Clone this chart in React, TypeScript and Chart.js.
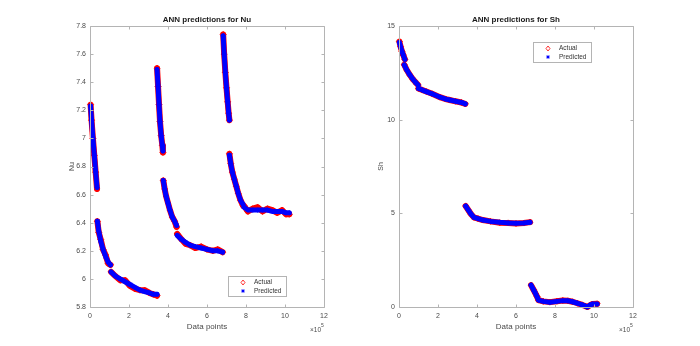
import React, { useEffect, useRef } from "react";
import { Chart, registerables } from "chart.js";
Chart.register(...registerables);

// ---------- data (x in units of 10^5 data points) ----------
const xTickValues = [0, 2, 4, 6, 8, 10, 12];

const nuX = [
  [0.03, 0.08, 0.15, 0.22, 0.29, 0.36],
  [0.38, 0.45, 0.55, 0.67, 0.8, 0.93, 1.05],
  [1.08, 1.3, 1.55, 1.8, 2.05, 2.3, 2.56, 2.8, 3.05, 3.25, 3.44],
  [3.44, 3.49, 3.54, 3.59, 3.65, 3.71, 3.74],
  [3.76, 3.83, 3.9, 4.0, 4.1, 4.22, 4.34, 4.44],
  [4.47, 4.7, 4.9, 5.13, 5.4, 5.7, 6.0, 6.3, 6.55, 6.8],
  [6.83, 6.88, 6.94, 7.0, 7.06, 7.11, 7.15],
  [7.15, 7.22, 7.3, 7.4, 7.5, 7.6, 7.72, 7.85],
  [7.9, 8.1, 8.35, 8.6, 8.85, 9.1, 9.35, 9.6, 9.85, 10.05, 10.22],
];
const nuActual = [
  [7.24, 7.13, 7.0, 6.88, 6.76, 6.64],
  [6.41, 6.33, 6.28, 6.21, 6.17, 6.11, 6.1],
  [6.05, 6.02, 5.99, 5.99, 5.95, 5.93, 5.92, 5.92, 5.9, 5.89, 5.88],
  [7.5, 7.37, 7.24, 7.12, 7.02, 6.95, 6.9],
  [6.7, 6.64, 6.59, 6.54, 6.49, 6.44, 6.41, 6.37],
  [6.32, 6.28, 6.25, 6.24, 6.22, 6.23, 6.21, 6.2, 6.21, 6.19],
  [7.74, 7.6, 7.47, 7.36, 7.26, 7.18, 7.13],
  [6.89, 6.82, 6.76, 6.71, 6.66, 6.61, 6.56, 6.52],
  [6.52, 6.48, 6.5, 6.51, 6.48, 6.5, 6.49, 6.47, 6.49, 6.46, 6.46],
];
const nuPredicted = [
  [7.23, 7.13, 7.0, 6.88, 6.76, 6.65],
  [6.41, 6.34, 6.27, 6.21, 6.16, 6.12, 6.1],
  [6.05, 6.02, 6.0, 5.98, 5.96, 5.94, 5.92, 5.91, 5.9, 5.89, 5.89],
  [7.49, 7.37, 7.24, 7.12, 7.02, 6.95, 6.91],
  [6.7, 6.64, 6.59, 6.54, 6.49, 6.44, 6.41, 6.38],
  [6.31, 6.28, 6.26, 6.24, 6.23, 6.22, 6.21, 6.2, 6.2, 6.19],
  [7.73, 7.6, 7.47, 7.36, 7.26, 7.18, 7.13],
  [6.88, 6.82, 6.76, 6.71, 6.66, 6.61, 6.56, 6.53],
  [6.51, 6.49, 6.49, 6.49, 6.49, 6.49, 6.48, 6.48, 6.48, 6.47, 6.47],
];

const shX = [
  [0.02, 0.08, 0.15, 0.22, 0.3],
  [0.27, 0.4, 0.56, 0.72, 0.86, 0.98],
  [1.0, 1.2, 1.4, 1.7, 2.1, 2.4, 2.6, 2.9, 3.2, 3.4],
  [3.42, 3.55, 3.7, 3.85, 4.05, 4.3, 4.7, 5.17, 5.6, 6.0, 6.4, 6.72],
  [6.77, 6.9, 7.0, 7.08, 7.15, 7.4, 7.74, 8.1, 8.4, 8.65, 8.9, 9.15, 9.4, 9.55, 9.66, 9.8, 9.92, 10.16],
];
const shActual = [
  [14.17, 13.9, 13.65, 13.45, 13.22],
  [12.93, 12.65, 12.38, 12.15, 11.98, 11.85],
  [11.67, 11.58, 11.5, 11.38, 11.2, 11.1, 11.05, 10.98, 10.92, 10.84],
  [5.39, 5.18, 4.95, 4.78, 4.72, 4.64, 4.57, 4.5, 4.49, 4.46, 4.48, 4.53],
  [1.17, 0.92, 0.72, 0.55, 0.37, 0.3, 0.26, 0.31, 0.35, 0.33, 0.28, 0.2, 0.11, 0.05, 0.0, 0.1, 0.16, 0.17],
];
const shPredicted = [
  [14.12, 13.9, 13.65, 13.45, 13.22],
  [12.92, 12.65, 12.38, 12.15, 11.98, 11.85],
  [11.67, 11.58, 11.5, 11.38, 11.2, 11.1, 11.05, 10.98, 10.92, 10.84],
  [5.39, 5.18, 4.95, 4.78, 4.72, 4.64, 4.57, 4.52, 4.49, 4.47, 4.48, 4.52],
  [1.17, 0.92, 0.72, 0.55, 0.37, 0.3, 0.25, 0.3, 0.34, 0.33, 0.28, 0.2, 0.11, 0.05, 0.0, 0.1, 0.16, 0.16],
];

// ---------- helpers ----------
const FONT = "'Liberation Sans', Arial, Helvetica, sans-serif";
const AXIS_COLOR = "#b4b4b4";
const TEXT_COLOR = "#4a4a4a";
const RED = "#ff0000";
const BLUE = "#0000ff";

function toPoints(xs: number[][], ys: number[][]) {
  const pts: { x: number; y: number | null }[] = [];
  xs.forEach((seg, i) => {
    if (i > 0) pts.push({ x: seg[0], y: null });
    seg.forEach((x, j) => pts.push({ x, y: ys[i][j] }));
  });
  return pts;
}

type PanelCfg = {
  title: string;
  yLabel: string;
  yMin: number;
  yMax: number;
  yStep: number;
  yAxisWidth: number;
  padRight: number;
  legendBox: [number, number, number, number]; // x, y, w, h in canvas px
};

function makeDecorPlugin(cfg: PanelCfg) {
  return {
    id: "matlabDecor",
    afterDraw(chart: any) {
      const { ctx, chartArea: a, scales } = chart;
      ctx.save();
      // box
      ctx.strokeStyle = AXIS_COLOR;
      ctx.lineWidth = 1;
      const L = Math.round(a.left) + 0.5;
      const R = Math.round(a.right) + 0.5;
      const T = Math.round(a.top) + 0.5;
      const B = Math.round(a.bottom) + 0.5;
      ctx.beginPath();
      ctx.rect(L, T, R - L, B - T);
      ctx.stroke();
      // inward ticks
      const tl = 3;
      ctx.beginPath();
      scales.x.ticks.forEach((t: any) => {
        const px = Math.round(scales.x.getPixelForValue(t.value)) + 0.5;
        ctx.moveTo(px, B);
        ctx.lineTo(px, B - tl);
        ctx.moveTo(px, T);
        ctx.lineTo(px, T + tl);
      });
      scales.y.ticks.forEach((t: any) => {
        const py = Math.round(scales.y.getPixelForValue(t.value)) + 0.5;
        ctx.moveTo(L, py);
        ctx.lineTo(L + tl, py);
        ctx.moveTo(R, py);
        ctx.lineTo(R - tl, py);
      });
      ctx.stroke();

      const cx = (a.left + a.right) / 2;
      // title
      ctx.fillStyle = "#1a1a1a";
      ctx.font = `bold 8px ${FONT}`;
      ctx.textAlign = "center";
      ctx.textBaseline = "middle";
      ctx.fillText(cfg.title, cx, 20);
      // x label
      ctx.fillStyle = TEXT_COLOR;
      ctx.font = `8px ${FONT}`;
      ctx.fillText("Data points", cx, 327);
      // exponent
      ctx.font = `6.5px ${FONT}`;
      ctx.textAlign = "right";
      ctx.fillText("\u00d710", a.right - 3, 330);
      ctx.font = `5px ${FONT}`;
      ctx.textAlign = "left";
      ctx.fillText("5", a.right - 3, 326);
      // y label
      ctx.save();
      ctx.translate(a.left - 18, (a.top + a.bottom) / 2);
      ctx.rotate(-Math.PI / 2);
      ctx.font = `7px ${FONT}`;
      ctx.textAlign = "center";
      ctx.textBaseline = "middle";
      ctx.fillText(cfg.yLabel, 0, 0);
      ctx.restore();

      // legend
      const [lx, ly, lw, lh] = cfg.legendBox;
      ctx.fillStyle = "#ffffff";
      ctx.fillRect(lx + 0.5, ly + 0.5, lw, lh);
      ctx.strokeStyle = AXIS_COLOR;
      ctx.strokeRect(lx + 0.5, ly + 0.5, lw, lh);
      const mx = lx + 15;
      const y1 = ly + 6.5;
      const y2 = ly + 15;
      // red diamond
      ctx.strokeStyle = RED;
      ctx.lineWidth = 0.8;
      ctx.beginPath();
      ctx.moveTo(mx, y1 - 2.5);
      ctx.lineTo(mx + 2, y1);
      ctx.lineTo(mx, y1 + 2.5);
      ctx.lineTo(mx - 2, y1);
      ctx.closePath();
      ctx.stroke();
      // blue asterisk
      ctx.strokeStyle = BLUE;
      ctx.lineWidth = 1;
      ctx.beginPath();
      for (let k = 0; k < 4; k++) {
        const ang = (k * Math.PI) / 4;
        ctx.moveTo(mx - 1.8 * Math.cos(ang), y2 - 1.8 * Math.sin(ang));
        ctx.lineTo(mx + 1.8 * Math.cos(ang), y2 + 1.8 * Math.sin(ang));
      }
      ctx.stroke();
      ctx.fillStyle = "#333333";
      ctx.font = `6.5px ${FONT}`;
      ctx.textAlign = "left";
      ctx.textBaseline = "middle";
      ctx.fillText("Actual", lx + 26, y1);
      ctx.fillText("Predicted", lx + 26, y2);
      ctx.restore();
    },
  };
}

function Panel({
  cfg,
  xs,
  actual,
  predicted,
  left,
}: {
  cfg: PanelCfg;
  xs: number[][];
  actual: number[][];
  predicted: number[][];
  left: number;
}) {
  const ref = useRef<HTMLCanvasElement | null>(null);
  useEffect(() => {
    if (!ref.current) return;
    const chart = new Chart(ref.current, {
      type: "line",
      data: {
        datasets: [
          {
            label: "Predicted",
            data: toPoints(xs, predicted) as any,
            borderColor: BLUE,
            backgroundColor: BLUE,
            borderWidth: 5,
            borderCapStyle: "round",
            borderJoinStyle: "round",
            pointStyle: "star",
            pointRadius: 2.5,
            pointBorderWidth: 1,
            pointBorderColor: BLUE,
            spanGaps: false,
            tension: 0,
            order: 0,
            clip: false as any,
          },
          {
            label: "Actual",
            data: toPoints(xs, actual) as any,
            borderColor: RED,
            backgroundColor: "rgba(0,0,0,0)",
            borderWidth: 6,
            borderCapStyle: "round",
            borderJoinStyle: "round",
            pointStyle: "rectRot",
            pointRadius: 3,
            pointBorderWidth: 1,
            pointBorderColor: RED,
            spanGaps: false,
            tension: 0,
            order: 1,
            clip: false as any,
          },
        ],
      },
      options: {
        responsive: false,
        animation: false,
        events: [],
        layout: { padding: { top: 26, right: cfg.padRight, left: 0, bottom: 0 } },
        plugins: {
          legend: { display: false },
          title: { display: false },
          tooltip: { enabled: false },
        },
        scales: {
          x: {
            type: "linear",
            min: 0,
            max: 12,
            afterBuildTicks: (s: any) => {
              s.ticks = xTickValues.map((v) => ({ value: v }));
            },
            afterFit: (s: any) => {
              s.height = 39;
            },
            grid: { display: false, drawTicks: false },
            border: { display: false },
            ticks: {
              color: TEXT_COLOR,
              font: { family: FONT, size: 7 },
              padding: 5,
              maxRotation: 0,
            },
          },
          y: {
            type: "linear",
            min: cfg.yMin,
            max: cfg.yMax,
            afterFit: (s: any) => {
              s.width = cfg.yAxisWidth;
            },
            grid: { display: false, drawTicks: false },
            border: { display: false },
            ticks: {
              stepSize: cfg.yStep,
              color: TEXT_COLOR,
              font: { family: FONT, size: 7 },
              padding: 4,
              callback: (v: any) => String(Number(Number(v).toFixed(1))),
            },
          },
        },
      },
      plugins: [makeDecorPlugin(cfg)],
    });
    return () => chart.destroy();
  }, []);
  return (
    <canvas
      ref={ref}
      width={350}
      height={346}
      style={{ position: "absolute", left, top: 0, width: 350, height: 346 }}
    />
  );
}

const nuCfg: PanelCfg = {
  title: "ANN predictions for Nu",
  yLabel: "Nu",
  yMin: 5.8,
  yMax: 7.8,
  yStep: 0.2,
  yAxisWidth: 90,
  padRight: 26,
  legendBox: [228, 276, 58, 20],
};
const shCfg: PanelCfg = {
  title: "ANN predictions for Sh",
  yLabel: "Sh",
  yMin: 0,
  yMax: 15,
  yStep: 5,
  yAxisWidth: 49,
  padRight: 67,
  legendBox: [183, 42, 58, 20],
};

export default function App() {
  return (
    <div
      style={{
        position: "fixed",
        left: 0,
        top: 0,
        width: 700,
        height: 346,
        background: "#ffffff",
        overflow: "hidden",
      }}
    >
      <Panel cfg={nuCfg} xs={nuX} actual={nuActual} predicted={nuPredicted} left={0} />
      <Panel cfg={shCfg} xs={shX} actual={shActual} predicted={shPredicted} left={350} />
    </div>
  );
}
